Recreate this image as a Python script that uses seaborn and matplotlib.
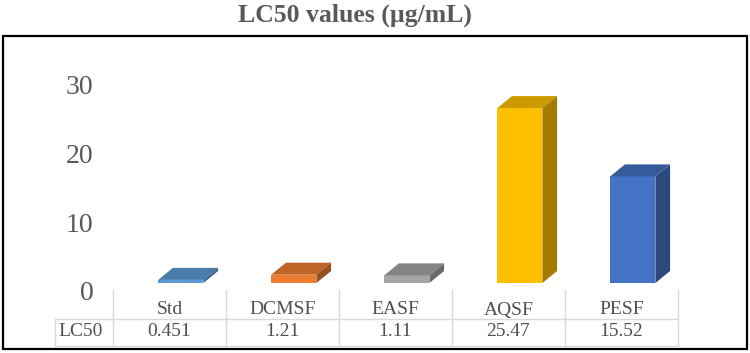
import numpy as np
import pandas as pd
import seaborn as sns
import matplotlib.pyplot as plt
from matplotlib.patches import Polygon, Rectangle
from matplotlib.lines import Line2D
from matplotlib import transforms, colors as mcolors

# data
samples = ['Std', 'DCMSF', 'EASF', 'AQSF', 'PESF']
lc50 = [0.451, 1.21, 1.11, 25.47, 15.52]
lc50_text = ['0.451', '1.21', '1.11', '25.47', '15.52']
bar_colors = ['#5B9BD5', '#ED7D31', '#A5A5A5', '#FFC000', '#4472C4']
yticks = [0, 10, 20, 30]

df = pd.DataFrame({'sample': samples, 'LC50': lc50})

sns.set_style('white')
plt.rcParams['font.family'] = ['Liberation Serif', 'DejaVu Serif']

fig = plt.figure(figsize=(7.5, 3.53), dpi=100)
ax = fig.add_axes([113 / 750, 70 / 353, 565 / 750, 206 / 353])

sns.barplot(data=df, x='sample', y='LC50', hue='sample', palette=bar_colors,
            legend=False, width=0.4, ax=ax, saturation=1)

# fake 3D: shift front faces and add top / side faces
shift, dx, dy = 0.1, 0.13, 1.75
for p, c in zip(ax.patches, bar_colors):
    p.set_x(p.get_x() + shift)
    p.set_linewidth(0)
    x0, w, h = p.get_x(), p.get_width(), p.get_height()
    rgb = np.array(mcolors.to_rgb(c))
    top = Polygon([(x0, h), (x0 + w, h), (x0 + w + dx, h + dy), (x0 + dx, h + dy)],
                  closed=True, facecolor=rgb * 0.8, edgecolor='none', zorder=3)
    side = Polygon([(x0 + w, 0), (x0 + w + dx, dy), (x0 + w + dx, h + dy), (x0 + w, h)],
                   closed=True, facecolor=rgb * 0.64, edgecolor='none', zorder=3)
    ax.add_patch(top)
    ax.add_patch(side)

ax.set_xlim(-0.5, 4.5)
ax.set_ylim(0, 30)
ax.set_yticks(yticks)
ax.set_xticks([])
ax.set_xlabel('')
ax.set_ylabel('')
for s in ax.spines.values():
    s.set_visible(False)
ax.tick_params(axis='y', length=0, pad=14, labelsize=20, labelcolor='#595959')
off = transforms.ScaledTranslation(0, -0.08, fig.dpi_scale_trans)
for lab in ax.get_yticklabels():
    lab.set_transform(lab.get_transform() + off)

# data table under the chart
grid_c = '#d9d9d9'
bt = transforms.blended_transform_factory(ax.transData, fig.transFigure)
y_top, y_mid, y_bot = 1 - 290 / 353, 1 - 319 / 353, 1 - 346 / 353
for i in range(len(samples) + 1):
    fig.add_artist(Line2D([i - 0.5, i - 0.5], [y_top, y_bot], transform=bt,
                          color=grid_c, lw=1))
for yy in (y_mid, y_bot):
    fig.add_artist(Line2D([55 / 750, 678 / 750], [yy, yy], transform=fig.transFigure,
                          color=grid_c, lw=1))
fig.add_artist(Line2D([55 / 750, 55 / 750], [y_mid, y_bot], transform=fig.transFigure,
                      color=grid_c, lw=1))
for i, (name, val) in enumerate(zip(samples, lc50_text)):
    fig.text(i, 1 - 310 / 353, name, transform=bt, ha='center', va='center',
             fontsize=14, color='#505050')
    fig.text(i, 1 - 332 / 353, val, transform=bt, ha='center', va='center',
             fontsize=14, color='#505050')
fig.text(81 / 750, 1 - 332 / 353, 'LC50', ha='center', va='center',
         fontsize=14, color='#505050')

# title and outer frame
fig.text(355 / 750, 1 - 15 / 353, 'LC50 values (µg/mL)', ha='center', va='center',
         fontsize=18.5, fontweight='bold', color='#595959')
fig.add_artist(Rectangle((3 / 750, 4 / 353), 744 / 750, 313 / 353,
                         transform=fig.transFigure, fill=False, edgecolor='black', lw=1.6))

fig.savefig('out.png', dpi=100)
